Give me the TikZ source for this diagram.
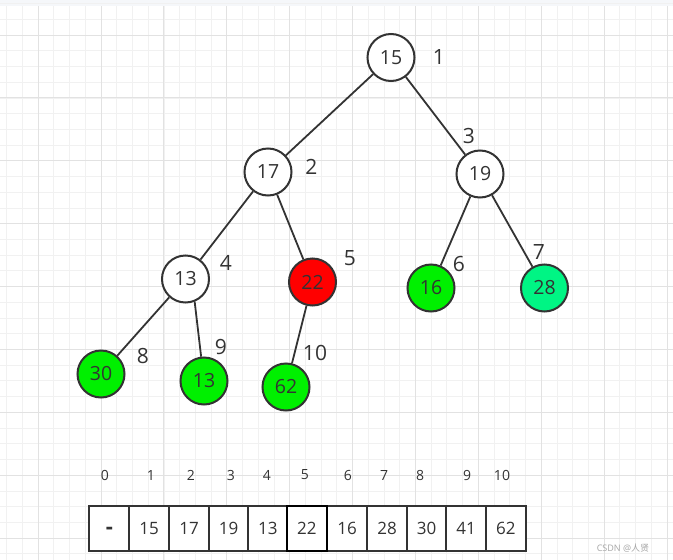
\documentclass[tikz,border=0pt]{standalone}
\usepackage{fontspec}
\setmainfont{Open Sans}
\newfontfamily\cjk{Noto Sans CJK SC}
\definecolor{ink}{HTML}{333333}
\definecolor{gminor}{HTML}{F1F1F1}
\definecolor{gmajor}{HTML}{E2E2E2}
\definecolor{topband}{HTML}{F5F7FA}
\definecolor{nodegreen}{HTML}{00F000}
\definecolor{nodespring}{HTML}{00F584}
\definecolor{nodered}{HTML}{FF0000}
\begin{document}
\begin{tikzpicture}[x=1pt,y=-1pt,
  treenode/.style={circle,draw=ink,line width=2pt,minimum size=47pt,inner sep=0pt,
    text=ink,font=\fontsize{19.5}{19.5}\selectfont},
  whitenode/.style={treenode,fill=white},
  greennode/.style={treenode,fill=nodegreen},
  rednode/.style={treenode,fill=nodered},
  springnode/.style={treenode,fill=nodespring},
  edge/.style={draw=ink,line width=1.8pt},
  poslabel/.style={text=ink,font=\fontsize{21}{21}\selectfont,inner sep=0pt},
  idxlabel/.style={text=ink,font=\fontsize{14}{14}\selectfont,inner sep=0pt},
  cell/.style={rectangle,draw=ink,line width=2pt,fill=white,minimum width=39.7pt,
    minimum height=45pt,inner sep=0pt,text=ink,font=\fontsize{17}{17}\selectfont},
  markcell/.style={cell,draw=black,line width=2.2pt},
  watermark/.style={text=black!35,font=\fontsize{9}{9}\selectfont,inner sep=0pt}]
\useasboundingbox (0,0) rectangle (673,560);
\fill[white] (0,0) rectangle (673,560);
\fill[topband] (0,0) rectangle (673,6);
% grid
\foreach \i in {0,...,42}{\draw[gminor,line width=0.8pt] ({6.7+15.72*\i},6) -- ({6.7+15.72*\i},560);}
\foreach \j in {0,...,35}{\draw[gminor,line width=0.8pt] (0,{3.6+15.72*\j}) -- (673,{3.6+15.72*\j});}
\foreach \i in {0,...,10}{\draw[gmajor,line width=0.8pt] ({38.1+62.88*\i},6) -- ({38.1+62.88*\i},560);}
\foreach \j in {0,...,8}{\draw[gmajor,line width=0.8pt] (0,{35.0+62.88*\j}) -- (673,{35.0+62.88*\j});}
% tree nodes
\node[whitenode]  (n1)  at (391,57.5) {15};
\node[whitenode]  (n2)  at (268,172)  {17};
\node[whitenode]  (n3)  at (480,174)  {19};
\node[whitenode]  (n4)  at (185.5,279) {13};
\node[rednode]    (n5)  at (312.5,282) {22};
\node[greennode]  (n6)  at (431,288)  {16};
\node[springnode] (n7)  at (544.5,288) {28};
\node[greennode]  (n8)  at (101,374)  {30};
\node[greennode]  (n9)  at (204,381)  {13};
\node[greennode]  (n10) at (286,387)  {62};
% edges
\path[edge] (n1) -- (n2);
\path[edge] (n1) -- (n3);
\path[edge] (n2) -- (n4);
\path[edge] (n2) -- (n5);
\path[edge] (n3) -- (n6);
\path[edge] (n3) -- (n7);
\path[edge] (n4) -- (n8);
\path[edge] (n4.-68) -- (n9);
\path[edge] (n5) -- (n10);
% position labels
\node[poslabel] (l1)  at (439,57)    {1};
\node[poslabel] (l2)  at (311.5,166.5) {2};
\node[poslabel] (l3)  at (469,136)   {3};
\node[poslabel] (l4)  at (226,263)   {4};
\node[poslabel] (l5)  at (350,258)   {5};
\node[poslabel] (l6)  at (459,264)   {6};
\node[poslabel] (l7)  at (539,252)   {7};
\node[poslabel] (l8)  at (143,356)   {8};
\node[poslabel] (l9)  at (221,347)   {9};
\node[poslabel] (l10) at (315,353)   {10};
% index labels
\node[idxlabel] (i0)  at (105,475) {0};
\node[idxlabel] (i1)  at (151,475) {1};
\node[idxlabel] (i2)  at (191,475) {2};
\node[idxlabel] (i3)  at (231,475) {3};
\node[idxlabel] (i4)  at (267,475) {4};
\node[idxlabel] (i5)  at (305,475) {5};
\node[idxlabel] (i6)  at (348,475) {6};
\node[idxlabel] (i7)  at (384,475) {7};
\node[idxlabel] (i8)  at (420,475) {8};
\node[idxlabel] (i9)  at (467,475) {9};
\node[idxlabel] (i10) at (502,475) {10};
% array cells
\node[cell] (c0)  at (109.3,528.5) {\vphantom{0}{\fontsize{22}{22}\selectfont\bfseries -}};
\node[cell] (c1)  at (149.2,528.5) {15};
\node[cell] (c2)  at (189.1,528.5) {17};
\node[cell] (c3)  at (228.6,528.5) {19};
\node[cell] (c4)  at (267.9,528.5) {13};
\node[cell] (c6)  at (347.0,528.5) {16};
\node[cell] (c7)  at (387.0,528.5) {28};
\node[cell] (c8)  at (426.7,528.5) {30};
\node[cell] (c9)  at (466.2,528.5) {41};
\node[cell] (c10) at (505.9,528.5) {62};
\node[markcell] (c5) at (306.9,528.5) {22};
% watermark
\node[watermark] (wm) at (623,548) {CSDN @{\cjk 人贤}};
\end{tikzpicture}
\end{document}
